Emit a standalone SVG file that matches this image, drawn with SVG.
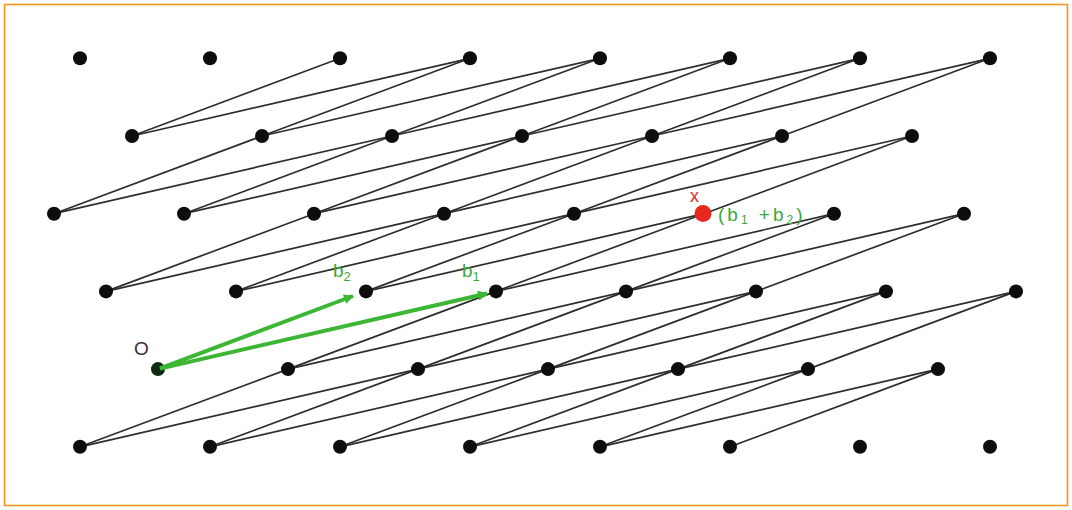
<svg xmlns="http://www.w3.org/2000/svg" width="1072" height="510" viewBox="0 0 1072 510">
<style>
.frame{fill:#ffffff;stroke:#f5961f;stroke-width:1.6}
.e{stroke:#2e2e2e;stroke-width:1.7;fill:none}
.pt{fill:#0d0d0d}
.vec{stroke:#3cb634;stroke-width:4;fill:none;marker-end:url(#ah)}
.gl{fill:#3aa83a;font-family:"Liberation Sans",Arial,sans-serif;font-size:19px}
</style>
<defs>
<marker id="ah" viewBox="0 0 10 10" refX="9" refY="5" markerWidth="12" markerHeight="10" markerUnits="userSpaceOnUse" orient="auto">
<path d="M0,0 L10,5 L0,10 z" fill="#3cb634"/>
</marker>
</defs>
<rect class="frame" x="4.5" y="4.5" width="1063" height="501"/>
<g id="connectors">
<line class="e" x1="80" y1="446.8" x2="288" y2="369.1"/><line class="e" x1="80" y1="446.8" x2="418" y2="369.1"/>
<line class="e" x1="210" y1="446.8" x2="418" y2="369.1"/><line class="e" x1="210" y1="446.8" x2="548" y2="369.1"/>
<line class="e" x1="340" y1="446.8" x2="548" y2="369.1"/><line class="e" x1="340" y1="446.8" x2="678" y2="369.1"/>
<line class="e" x1="470" y1="446.8" x2="678" y2="369.1"/><line class="e" x1="470" y1="446.8" x2="808" y2="369.1"/>
<line class="e" x1="600" y1="446.8" x2="808" y2="369.1"/><line class="e" x1="600" y1="446.8" x2="938" y2="369.1"/>
<line class="e" x1="730" y1="446.8" x2="938" y2="369.1"/>
<line class="e" x1="288" y1="369.1" x2="496" y2="291.4"/><line class="e" x1="288" y1="369.1" x2="626" y2="291.4"/>
<line class="e" x1="418" y1="369.1" x2="626" y2="291.4"/><line class="e" x1="418" y1="369.1" x2="756" y2="291.4"/>
<line class="e" x1="548" y1="369.1" x2="756" y2="291.4"/><line class="e" x1="548" y1="369.1" x2="886" y2="291.4"/>
<line class="e" x1="678" y1="369.1" x2="886" y2="291.4"/><line class="e" x1="678" y1="369.1" x2="1016" y2="291.4"/>
<line class="e" x1="808" y1="369.1" x2="1016" y2="291.4"/>
<line class="e" x1="106" y1="291.4" x2="314" y2="213.7"/><line class="e" x1="106" y1="291.4" x2="444" y2="213.7"/>
<line class="e" x1="236" y1="291.4" x2="444" y2="213.7"/><line class="e" x1="236" y1="291.4" x2="574" y2="213.7"/>
<line class="e" x1="366" y1="291.4" x2="574" y2="213.7"/><line class="e" x1="366" y1="291.4" x2="704" y2="213.7"/>
<line class="e" x1="496" y1="291.4" x2="704" y2="213.7"/><line class="e" x1="496" y1="291.4" x2="834" y2="213.7"/>
<line class="e" x1="626" y1="291.4" x2="834" y2="213.7"/><line class="e" x1="626" y1="291.4" x2="964" y2="213.7"/>
<line class="e" x1="756" y1="291.4" x2="964" y2="213.7"/>
<line class="e" x1="54" y1="213.7" x2="262" y2="136"/><line class="e" x1="54" y1="213.7" x2="392" y2="136"/>
<line class="e" x1="184" y1="213.7" x2="392" y2="136"/><line class="e" x1="184" y1="213.7" x2="522" y2="136"/>
<line class="e" x1="314" y1="213.7" x2="522" y2="136"/><line class="e" x1="314" y1="213.7" x2="652" y2="136"/>
<line class="e" x1="444" y1="213.7" x2="652" y2="136"/><line class="e" x1="444" y1="213.7" x2="782" y2="136"/>
<line class="e" x1="574" y1="213.7" x2="782" y2="136"/><line class="e" x1="574" y1="213.7" x2="912" y2="136"/>
<line class="e" x1="704" y1="213.7" x2="912" y2="136"/>
<line class="e" x1="132" y1="136" x2="340" y2="58.3"/><line class="e" x1="132" y1="136" x2="470" y2="58.3"/>
<line class="e" x1="262" y1="136" x2="470" y2="58.3"/><line class="e" x1="262" y1="136" x2="600" y2="58.3"/>
<line class="e" x1="392" y1="136" x2="600" y2="58.3"/><line class="e" x1="392" y1="136" x2="730" y2="58.3"/>
<line class="e" x1="522" y1="136" x2="730" y2="58.3"/><line class="e" x1="522" y1="136" x2="860" y2="58.3"/>
<line class="e" x1="652" y1="136" x2="860" y2="58.3"/><line class="e" x1="652" y1="136" x2="990" y2="58.3"/>
<line class="e" x1="782" y1="136" x2="990" y2="58.3"/>
</g>
<g id="lattice-points">
<g id="row1"><circle class="pt" cx="80" cy="58.3" r="7"/><circle class="pt" cx="210" cy="58.3" r="7"/><circle class="pt" cx="340" cy="58.3" r="7"/><circle class="pt" cx="470" cy="58.3" r="7"/><circle class="pt" cx="600" cy="58.3" r="7"/><circle class="pt" cx="730" cy="58.3" r="7"/><circle class="pt" cx="860" cy="58.3" r="7"/><circle class="pt" cx="990" cy="58.3" r="7"/></g>
<g id="row2"><circle class="pt" cx="132" cy="136" r="7"/><circle class="pt" cx="262" cy="136" r="7"/><circle class="pt" cx="392" cy="136" r="7"/><circle class="pt" cx="522" cy="136" r="7"/><circle class="pt" cx="652" cy="136" r="7"/><circle class="pt" cx="782" cy="136" r="7"/><circle class="pt" cx="912" cy="136" r="7"/></g>
<g id="row3"><circle class="pt" cx="54" cy="213.7" r="7"/><circle class="pt" cx="184" cy="213.7" r="7"/><circle class="pt" cx="314" cy="213.7" r="7"/><circle class="pt" cx="444" cy="213.7" r="7"/><circle class="pt" cx="574" cy="213.7" r="7"/><circle class="pt" cx="834" cy="213.7" r="7"/><circle class="pt" cx="964" cy="213.7" r="7"/></g>
<g id="row4"><circle class="pt" cx="106" cy="291.4" r="7"/><circle class="pt" cx="236" cy="291.4" r="7"/><circle class="pt" cx="366" cy="291.4" r="7"/><circle class="pt" cx="496" cy="291.4" r="7"/><circle class="pt" cx="626" cy="291.4" r="7"/><circle class="pt" cx="756" cy="291.4" r="7"/><circle class="pt" cx="886" cy="291.4" r="7"/><circle class="pt" cx="1016" cy="291.4" r="7"/></g>
<g id="row5"><circle class="pt" cx="288" cy="369.1" r="7"/><circle class="pt" cx="418" cy="369.1" r="7"/><circle class="pt" cx="548" cy="369.1" r="7"/><circle class="pt" cx="678" cy="369.1" r="7"/><circle class="pt" cx="808" cy="369.1" r="7"/><circle class="pt" cx="938" cy="369.1" r="7"/></g>
<g id="row6"><circle class="pt" cx="80" cy="446.8" r="7"/><circle class="pt" cx="210" cy="446.8" r="7"/><circle class="pt" cx="340" cy="446.8" r="7"/><circle class="pt" cx="470" cy="446.8" r="7"/><circle class="pt" cx="600" cy="446.8" r="7"/><circle class="pt" cx="730" cy="446.8" r="7"/><circle class="pt" cx="860" cy="446.8" r="7"/><circle class="pt" cx="990" cy="446.8" r="7"/></g>
</g>
<g id="origin">
<circle cx="158" cy="369.1" r="7" fill="#0f2a10"/>
<text x="134" y="355" font-family="'Liberation Sans',Arial,sans-serif" font-size="19" fill="#3a2a3a">O</text>
</g>
<g id="basis-vectors">
<line class="vec" x1="160" y1="368.4" x2="353" y2="296"/>
<line class="vec" x1="160" y1="368.6" x2="487" y2="293.5"/>
<text class="gl" x="333" y="277">b<tspan font-size="13" dy="4">2</tspan></text>
<text class="gl" x="462" y="277">b<tspan font-size="13" dy="4">1</tspan></text>
</g>
<g id="point-x">
<circle cx="703" cy="213.5" r="8.5" fill="#e8281e"/>
<text x="690" y="202" font-family="'Liberation Sans',Arial,sans-serif" font-size="18" fill="#e0282a">x</text>
<text class="gl" x="718" y="221" letter-spacing="3">(b<tspan font-size="12" dy="3">1</tspan><tspan dy="-3"> +b</tspan><tspan font-size="12" dy="3">2</tspan><tspan dy="-3">)</tspan></text>
</g>
</svg>
